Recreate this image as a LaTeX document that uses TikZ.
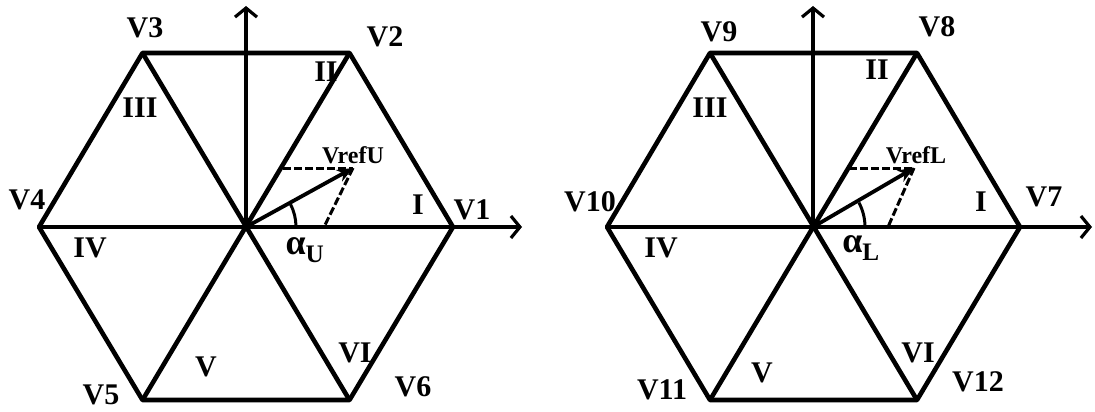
\documentclass[tikz,border=0pt]{standalone}
\usepackage{fontspec}
\setmainfont{Liberation Serif}
\usetikzlibrary{arrows.meta}

\begin{document}
\begin{tikzpicture}[
    x=1pt, y=-1pt,
    hexline/.style={line width=4.6pt, line join=round},
    axis/.style={line width=3.2pt, -{Straight Barb[length=9pt,width=22pt]}},
    vref/.style={line width=3.8pt, -{Stealth[length=16pt,width=13pt]}},
    proj/.style={line width=3pt, dash pattern=on 8pt off 3pt},
    lbl/.style={font=\fontsize{30}{32}\selectfont\bfseries, inner sep=0pt},
    small/.style={font=\fontsize{24}{26}\selectfont\bfseries, inner sep=0pt},
    greek/.style={font=\fontsize{36}{38}\selectfont\bfseries, inner sep=0pt}
]
  \useasboundingbox (0,0) rectangle (1095,412);

  % Upper inverter hexagon
  \coordinate (OU) at (246,227);
  \coordinate (U1) at (453,227);
  \coordinate (U2) at (349.5,53);
  \coordinate (U3) at (142.5,53);
  \coordinate (U4) at (39,227);
  \coordinate (U5) at (142.5,400);
  \coordinate (U6) at (349.5,400);
  \coordinate (UX) at (522,227);
  \coordinate (UY) at (246,6);
  \coordinate (UT) at (353,168);
  \coordinate (UP) at (283,168);
  \coordinate (UQ) at (324,227);

  \draw[hexline] (U1) -- (U2) -- (U3) -- (U4) -- (U5) -- (U6) -- cycle;
  \draw[hexline] (U4) -- (U1);
  \draw[hexline] (U2) -- (U5);
  \draw[hexline] (U3) -- (U6);
  \draw[axis] (OU) -- (UX);
  \draw[axis] (OU) -- (UY);
  \draw[vref] (OU) -- (UT);
  \draw[proj] (UP) -- (UT);
  \draw[proj] (UT) -- (UQ);
  \draw[line width=3pt] (OU) ++(50,0) arc[start angle=0, end angle=-27, radius=50];

  \node[lbl] (lU1) at (472,210) {V1};
  \node[lbl] (lU2) at (385,37) {V2};
  \node[lbl] (lU3) at (145,28) {V3};
  \node[lbl] (lU4) at (27,200) {V4};
  \node[lbl] (lU5) at (101,395) {V5};
  \node[lbl] (lU6) at (413,387) {V6};
  \node[lbl] (sU1) at (418,205) {I};
  \node[lbl] (sU2) at (326,72) {II};
  \node[lbl] (sU3) at (140,108) {III};
  \node[lbl] (sU4) at (90,248) {IV};
  \node[lbl] (sU5) at (206,367) {V};
  \node[lbl] (sU6) at (355,353) {VI};
  \node[small] (refU) at (353,155) {VrefU};
  \node[greek] (angU) at (305,250) {α\textsubscript{U}};

  % Lower inverter hexagon
  \coordinate (OL) at (813,227);
  \coordinate (L7) at (1020,227);
  \coordinate (L8) at (917,53);
  \coordinate (L9) at (710,53);
  \coordinate (L10) at (607,227);
  \coordinate (L11) at (710,400);
  \coordinate (L12) at (917,400);
  \coordinate (LX) at (1092,227);
  \coordinate (LY) at (813,6);
  \coordinate (LT) at (914,168);
  \coordinate (LP) at (849,168);
  \coordinate (LQ) at (888,227);

  \draw[hexline] (L7) -- (L8) -- (L9) -- (L10) -- (L11) -- (L12) -- cycle;
  \draw[hexline] (L10) -- (L7);
  \draw[hexline] (L8) -- (L11);
  \draw[hexline] (L9) -- (L12);
  \draw[axis] (OL) -- (LX);
  \draw[axis] (OL) -- (LY);
  \draw[vref] (OL) -- (LT);
  \draw[proj] (LP) -- (LT);
  \draw[proj] (LT) -- (LQ);
  \draw[line width=3pt] (OL) ++(52,0) arc[start angle=0, end angle=-28, radius=52];

  \node[lbl] (lL7) at (1044,197) {V7};
  \node[lbl] (lL8) at (937,27) {V8};
  \node[lbl] (lL9) at (719,32) {V9};
  \node[lbl] (lL10) at (590,202) {V10};
  \node[lbl] (lL11) at (662,390) {V11};
  \node[lbl] (lL12) at (978,382) {V12};
  \node[lbl] (sL1) at (981,202) {I};
  \node[lbl] (sL2) at (877,70) {II};
  \node[lbl] (sL3) at (710,108) {III};
  \node[lbl] (sL4) at (661,248) {IV};
  \node[lbl] (sL5) at (762,373) {V};
  \node[lbl] (sL6) at (918,353) {VI};
  \node[small] (refL) at (916,155) {VrefL};
  \node[greek] (angL) at (861,248) {α\textsubscript{L}};
\end{tikzpicture}
\end{document}
